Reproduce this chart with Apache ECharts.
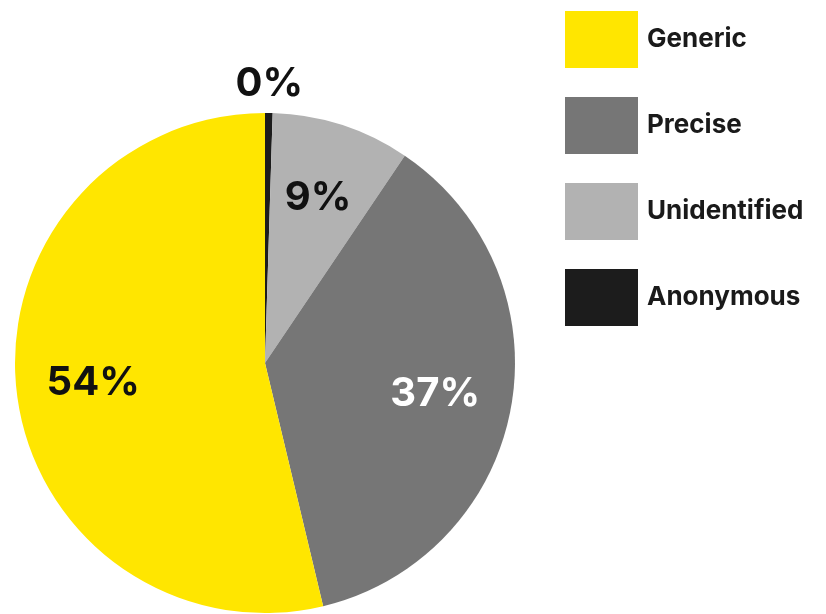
<!DOCTYPE html>
<html>
<head>
<meta charset="utf-8">
<style>
  html, body { margin: 0; padding: 0; background: #ffffff; }
  #chart { width: 826px; height: 614px; }
</style>
<script src="https://cdn.jsdelivr.net/npm/echarts@6/dist/echarts.min.js"></script>
</head>
<body>
<div id="chart"></div>
<script>
// Slices in drawing order, clockwise from 12 o'clock
const categories = ['Anonymous', 'Unidentified', 'Precise', 'Generic'];
const shares = [0.49, 9, 37, 54];
const sliceColors = ['#1c1c1c', '#b2b2b2', '#767676', '#ffe600'];
const labelColors = ['#111111', '#111111', '#ffffff', '#111111'];
// Legend reads top to bottom
const legendOrder = ['Generic', 'Precise', 'Unidentified', 'Anonymous'];

const FONT = 'Inter, "Noto Sans", sans-serif';
const CENTER = [265, 363];
const RADIUS = 250;

const pct = v => Math.round(v) + '%';

const pieData = categories.map((name, i) => ({
  name, value: shares[i], itemStyle: { color: sliceColors[i] }
}));

// Transparent copies of the pie, used only to place the value labels
// at a chosen distance from the centre (inside labels sit at half the radius).
function labelRing(radius, showIdx) {
  return {
    type: 'pie',
    center: CENTER,
    radius: [0, radius],
    startAngle: 90,
    clockwise: true,
    silent: true,
    z: 5,
    itemStyle: { color: 'rgba(0,0,0,0)' },
    labelLine: { show: false },
    data: categories.map((name, i) => ({
      name, value: shares[i],
      itemStyle: { color: 'rgba(0,0,0,0)' },
      label: {
        show: showIdx.includes(i),
        position: 'inside',
        formatter: pct(shares[i]),
        color: labelColors[i],
        fontFamily: FONT,
        fontWeight: 'bold',
        fontSize: 40
      }
    }))
  };
}

const chart = echarts.init(document.getElementById('chart'), null, { renderer: 'canvas' });
chart.setOption({
  animation: false,
  backgroundColor: '#ffffff',
  legend: {
    data: legendOrder,
    orient: 'vertical',
    left: 565,
    top: 11,
    padding: 0,
    itemWidth: 73,
    itemHeight: 57,
    itemGap: 29,
    icon: 'rect',
    selectedMode: false,
    textStyle: {
      fontFamily: FONT,
      fontWeight: 'bold',
      fontSize: 26,
      color: '#1a1a1a',
      padding: [0, 0, 0, 4]
    }
  },
  series: [
    {
      type: 'pie',
      center: CENTER,
      radius: [0, RADIUS],
      startAngle: 90,
      clockwise: true,
      silent: true,
      label: { show: false },
      labelLine: { show: false },
      data: pieData
    },
    labelRing(340, [1, 2, 3]),
    labelRing(552, [0])
  ]
});
</script>
</body>
</html>
